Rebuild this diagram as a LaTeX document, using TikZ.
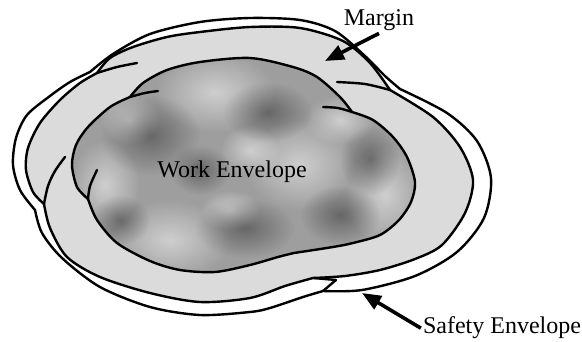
\documentclass[tikz,border=0pt]{standalone}
\usepackage{fontspec}
\setmainfont{Liberation Serif}
\usetikzlibrary{arrows.meta,positioning,fadings}

\tikzfading[name=softspot, inner color=transparent!0, outer color=transparent!100]

% outlines of the three layers (left, top, right and lower lobes)
\newcommand\safetyoutline{plot[smooth] coordinates {(35,210) (20,190) (13,165) (16,138) (27,115) (50,96) (70,82) (90,72)}
  -- plot[smooth] coordinates {(90,72) (113,54) (150,34) (200,22) (250,18) (300,20) (335,31) (365,56) (385,76) (400,89)}
  -- plot[smooth] coordinates {(400,89) (447,113) (477,141) (491,178) (484,218) (457,252) (415,276) (362,290) (323,291)}
  -- plot[smooth] coordinates {(323,291) (303,297) (270,308) (250,312) (200,315) (150,307) (100,287) (62,258) (42,233) (35,210)}
  -- cycle}
\newcommand\marginoutline{plot[smooth] coordinates {(44,204) (33,192) (26,170) (28,148) (40,123) (60,100) (80,83) (97,73)}
  -- plot[smooth] coordinates {(97,73) (110,58) (133,47) (167,37) (200,32) (250,27) (300,28) (343,41) (370,63) (390,90)}
  -- plot[smooth] coordinates {(390,90) (433,117) (460,147) (473,180) (465,213) (442,245) (415,259) (380,270) (345,276) (313,278)}
  -- plot[smooth] coordinates {(313,278) (285,286) (250,298) (200,302) (150,293) (100,277) (67,257) (50,228) (44,204)}
  -- cycle}
\newcommand\workoutline{plot[smooth] coordinates {(88,199) (77,187) (72,165) (76,145) (88,127) (110,107) (130,97)}
  -- plot[smooth] coordinates {(130,97) (143,83) (167,70) (200,62) (250,58) (293,67) (317,77) (340,97) (352,112)}
  -- plot[smooth] coordinates {(352,112) (373,120) (393,137) (407,157) (415,182) (411,202) (399,220) (380,235) (353,243) (333,247) (294,253)}
  -- plot[smooth] coordinates {(294,253) (278,257) (250,265) (215,272) (180,270) (150,261) (117,243) (97,220) (88,199)}
  -- cycle}

\begin{document}
\begin{tikzpicture}[x=1pt, y=-1pt,
  edge/.style={draw, line width=2.4pt, line join=round, line cap=round},
  lbl/.style={font=\fontsize{24}{28}\selectfont, inner sep=2pt},
  light/.style={fill=white, fill opacity=0.5, path fading=softspot},
  dark/.style={fill=black, fill opacity=0.35, path fading=softspot},
  pointer/.style={-{Triangle[length=19pt, width=15pt]}, line width=3.6pt}]
  \useasboundingbox (0,0) rectangle (582,342);

  % safety envelope
  \fill[white] \safetyoutline;
  \draw[edge] \safetyoutline;
  % margin
  \fill[black!14] \marginoutline;
  \draw[edge] \marginoutline;
  % work envelope, mottled
  \fill[black!38] \workoutline;
  \begin{scope}
    \clip \workoutline;
    \foreach \x/\y/\a/\b/\kind in {215/92/60/40/light, 300/165/55/45/light, 170/240/60/40/light,
        385/195/40/50/light, 105/185/35/45/light, 250/150/30/25/light, 340/120/35/25/light,
        130/120/30/25/light, 230/210/30/20/light, 150/135/50/40/dark, 268/112/45/30/dark,
        245/228/50/30/dark, 340/215/40/30/dark, 200/170/30/25/dark, 370/160/30/35/dark,
        120/220/30/25/dark}
      \fill[\kind] (\x,\y) ellipse[x radius=\a pt, y radius=\b pt];
  \end{scope}
  \draw[edge] \workoutline;

  % seams where the lobes overlap
  \draw[edge] plot[smooth] coordinates {(130,97) (145,93) (158,91)};
  \draw[edge] plot[smooth] coordinates {(88,199) (90,186) (97,170)};
  \draw[edge] plot[smooth] coordinates {(352,112) (338,108) (323,107)};
  \draw[edge] plot[smooth] coordinates {(97,73) (117,67) (137,63)};
  \draw[edge] plot[smooth] coordinates {(44,204) (48,186) (55,171) (65,157)};
  \draw[edge] plot[smooth] coordinates {(390,90) (365,84) (337,82)};
  \draw[edge] (313,278) -- (336,280) -- (323,291);

  % labels
  \node[lbl, anchor=base] (work) at (232,178) {Work Envelope};
  \node[lbl, anchor=base] (margin) at (379,26) {Margin};
  \node[lbl, anchor=base] (safety) at (502,334) {Safety Envelope};
  \coordinate (margintip) at (325,61);
  \coordinate (safetytip) at (362,293);
  \draw[pointer] (margin.south) -- (margintip);
  \draw[pointer] (safety.west) -- (safetytip);
\end{tikzpicture}
\end{document}
